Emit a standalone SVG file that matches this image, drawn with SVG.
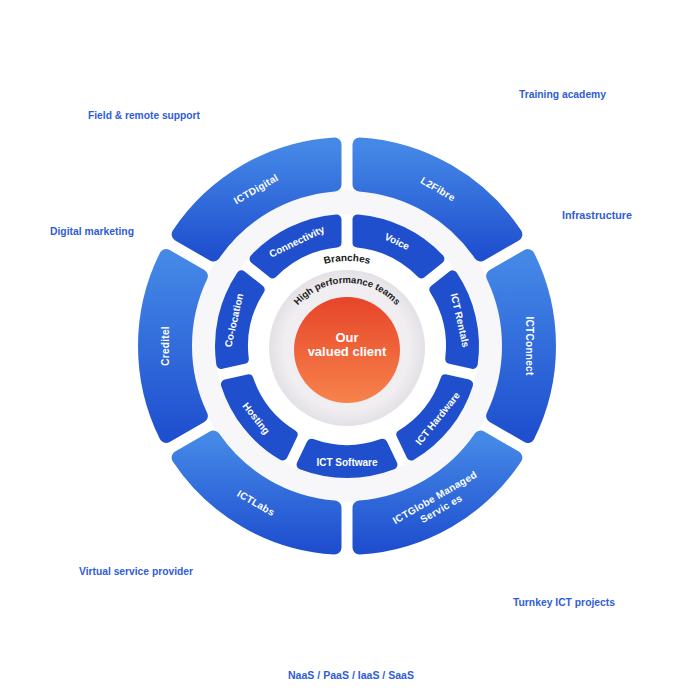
<svg xmlns="http://www.w3.org/2000/svg" width="700" height="700" viewBox="0 0 700 700">
<defs>
<linearGradient id="gOuter" x1="0" y1="0" x2="0" y2="1"><stop offset="0" stop-color="#4589E7"/><stop offset="1" stop-color="#1F4FCF"/></linearGradient>
<linearGradient id="gOrange" x1="0" y1="0" x2="0" y2="1"><stop offset="0" stop-color="#E6452A"/><stop offset="1" stop-color="#F7834B"/></linearGradient>
<radialGradient id="gGray"><stop offset="0.8" stop-color="#F0EEF1"/><stop offset="1" stop-color="#E4E1E6"/></radialGradient>
<path id="innerSeg" d="M 421.35,274.28 L 439.41,259.88 A127 127 0 0 0 357.50,220.43 L 357.50,243.53 A104 104 0 0 1 421.35,274.28 Z"/>
<path id="arcBranches" d="M 262,347 A 85 85 0 0 1 432,347"/>
<path id="arcTeams" d="M 282,349 A 65 65 0 0 1 412,349"/>
</defs>
<style>
.outer{fill:url(#gOuter);stroke:url(#gOuter);stroke-width:14;stroke-linejoin:round}
.inner{fill:#1F4FCD;stroke:#1F4FCD;stroke-width:10;stroke-linejoin:round}
.lbl{font-family:"Liberation Sans",Arial,sans-serif;font-weight:bold;font-size:10px;fill:#FFFFFF;text-anchor:middle}
.olbl{font-family:"Liberation Sans",Arial,sans-serif;font-weight:bold;font-size:10px;fill:#FFFFFF;text-anchor:middle;letter-spacing:0.3px}
.ext{font-family:"Liberation Sans",Arial,sans-serif;font-weight:bold;font-size:11px;fill:#2F5DD6}
.ring{font-family:"Liberation Sans",Arial,sans-serif;font-weight:bold;fill:#1A1A1A;text-anchor:middle}
.core{font-family:"Liberation Sans",Arial,sans-serif;font-weight:bold;font-size:13px;fill:#FFFFFF;text-anchor:middle}
</style>
<rect width="700" height="700" fill="#FFFFFF"/>
<g id="wheel" transform="translate(0,-1)">
<circle cx="347" cy="347" r="144" fill="none" stroke="#F7F7F9" stroke-width="24"/>
<g id="node-l2fibre"><path class="outer" d="M 480.63,255.42 L 515.36,235.37 A202 202 0 0 0 359.50,145.39 L 359.50,185.48 A162 162 0 0 1 480.63,255.42 Z"/><text class="olbl" transform="translate(438,190) rotate(30)" y="3.5">L2Fibre</text></g>
<g id="node-ictdigital"><path class="outer" d="M 334.50,185.48 L 334.50,145.39 A202 202 0 0 0 178.64,235.37 L 213.37,255.42 A162 162 0 0 1 334.50,185.48 Z"/><text class="olbl" transform="translate(256,190) rotate(-30)" y="3.5">ICTDigital</text></g>
<g id="node-creditel"><path class="outer" d="M 200.87,277.07 L 166.15,257.02 A202 202 0 0 0 166.15,436.98 L 200.87,416.93 A162 162 0 0 1 200.87,277.07 Z"/><text class="olbl" transform="translate(165,347) rotate(-90)" y="3.5">Creditel</text></g>
<g id="node-ictlabs"><path class="outer" d="M 213.37,438.58 L 178.64,458.63 A202 202 0 0 0 334.50,548.61 L 334.50,508.52 A162 162 0 0 1 213.37,438.58 Z"/><text class="olbl" transform="translate(256,504) rotate(30)" y="3.5">ICTLabs</text></g>
<g id="node-ictglobe"><path class="outer" d="M 359.50,508.52 L 359.50,548.61 A202 202 0 0 0 515.36,458.63 L 480.63,438.58 A162 162 0 0 1 359.50,508.52 Z"/><text class="olbl" transform="translate(438,504) rotate(-30)"><tspan x="0" y="-3">ICTGlobe Managed</tspan><tspan x="0" y="10">Servic es</tspan></text></g>
<g id="node-ictconnect"><path class="outer" d="M 493.13,416.93 L 527.85,436.98 A202 202 0 0 0 527.85,257.02 L 493.13,277.07 A162 162 0 0 1 493.13,416.93 Z"/><text class="olbl" transform="translate(529,347) rotate(90)" y="3.5">ICTConnect</text></g>
<g id="node-voice"><use href="#innerSeg" class="inner"/><text class="lbl" transform="translate(397,242.5) rotate(25.714)" y="3.5">Voice</text></g>
<g id="node-connectivity"><use href="#innerSeg" class="inner" transform="rotate(-51.4286 347 347)"/><text class="lbl" transform="translate(296.7,242.5) rotate(-25.714)" y="3.5">Connectivity</text></g>
<g id="node-colocation"><use href="#innerSeg" class="inner" transform="rotate(-102.857 347 347)"/><text class="lbl" transform="translate(233.9,321.2) rotate(-77.143)" y="3.5">Co-location</text></g>
<g id="node-hosting"><use href="#innerSeg" class="inner" transform="rotate(-154.286 347 347)"/><text class="lbl" transform="translate(256.3,419.3) rotate(51.429)" y="3.5">Hosting</text></g>
<g id="node-ictsoftware"><use href="#innerSeg" class="inner" transform="rotate(-205.714 347 347)"/><text class="lbl" transform="translate(347,463)" y="3.5">ICT Software</text></g>
<g id="node-icthardware"><use href="#innerSeg" class="inner" transform="rotate(-257.143 347 347)"/><text class="lbl" transform="translate(437.7,419.3) rotate(-51.429)" y="3.5">ICT Hardware</text></g>
<g id="node-ictrentals"><use href="#innerSeg" class="inner" transform="rotate(51.4286 347 347)"/><text class="lbl" transform="translate(460.1,321.2) rotate(77.143)" y="3.5">ICT Rentals</text></g>
<g id="node-branches"><text class="ring" font-size="10"><textPath href="#arcBranches" startOffset="50%">Branches</textPath></text></g>
<g id="node-teams"><circle cx="347" cy="349" r="78" fill="url(#gGray)"/><text class="ring" font-size="9.5"><textPath href="#arcTeams" startOffset="50%">High performance teams</textPath></text></g>
<g id="node-client"><circle cx="347" cy="351" r="53" fill="url(#gOrange)"/><text class="core" x="347" y="343">Our</text><text class="core" x="347" y="357">valued client</text></g>
</g>
<g id="connectors"></g>
<g id="outer-labels">
<text class="ext" x="519" y="98" textLength="87" lengthAdjust="spacingAndGlyphs">Training academy</text>
<text class="ext" x="88" y="119" textLength="112" lengthAdjust="spacingAndGlyphs">Field &amp; remote support</text>
<text class="ext" x="562" y="219" textLength="70" lengthAdjust="spacingAndGlyphs">Infrastructure</text>
<text class="ext" x="50" y="235" textLength="84" lengthAdjust="spacingAndGlyphs">Digital marketing</text>
<text class="ext" x="79" y="575" textLength="114" lengthAdjust="spacingAndGlyphs">Virtual service provider</text>
<text class="ext" x="513" y="606" textLength="102" lengthAdjust="spacingAndGlyphs">Turnkey ICT projects</text>
<text class="ext" x="288" y="679" textLength="126" lengthAdjust="spacingAndGlyphs">NaaS / PaaS / IaaS / SaaS</text>
</g>
</svg>
